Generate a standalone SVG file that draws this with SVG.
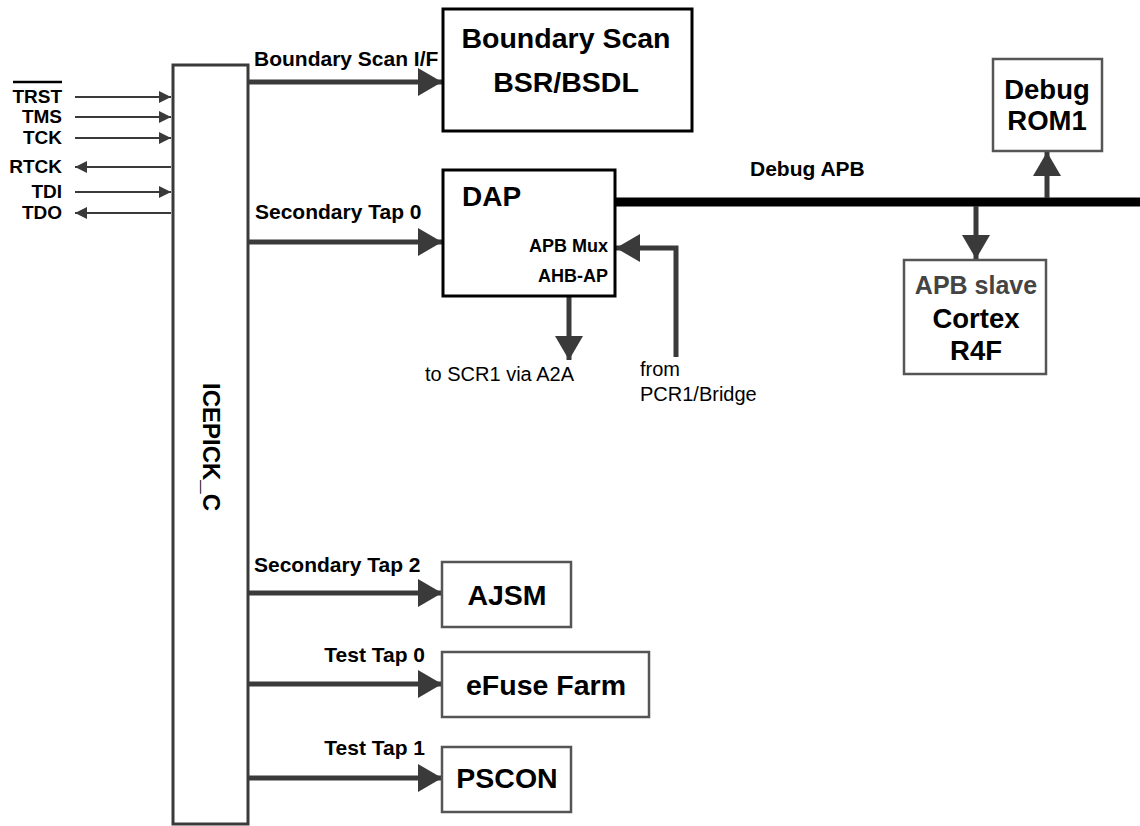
<svg xmlns="http://www.w3.org/2000/svg" width="1140" height="826" viewBox="0 0 1140 826">
<style>
text{font-family:"Liberation Sans",Arial,sans-serif;font-weight:bold;fill:#000}
.sig{font-size:19px}
.lbl{font-size:21px}
.big{font-size:28.5px}
.thin{font-weight:normal;font-size:20px}
.box{fill:#fff;stroke:#000;stroke-width:3}
.gbox{fill:#fff;stroke:#555;stroke-width:2.5}
.c5{fill:none;stroke:#3a3a3a;stroke-width:5;marker-end:url(#big)}
.c2{fill:none;stroke:#3a3a3a;stroke-width:2;marker-end:url(#small)}
</style>
<defs>
<marker id="big" markerUnits="userSpaceOnUse" markerWidth="25" markerHeight="28" refX="24" refY="14" orient="auto"><path d="M0,0 L24,14 L0,28 Z" fill="#3a3a3a"/></marker>
<marker id="small" markerUnits="userSpaceOnUse" markerWidth="13" markerHeight="12" refX="12" refY="6" orient="auto"><path d="M0,0 L12,6 L0,12 Z" fill="#3a3a3a"/></marker>
</defs>
<g id="connectors">
<path class="c2" d="M75,97 H171"/>
<path class="c2" d="M75,117 H171"/>
<path class="c2" d="M75,138 H171"/>
<path class="c2" d="M171,167 H75"/>
<path class="c2" d="M75,192 H171"/>
<path class="c2" d="M171,213 H75"/>
<path class="c5" d="M248,82 H442"/>
<path class="c5" d="M248,242 H442"/>
<path class="c5" d="M248,593 H442"/>
<path class="c5" d="M248,684 H442"/>
<path class="c5" d="M248,778 H442"/>
<path d="M615,202 H1140" stroke="#000" stroke-width="9" fill="none"/>
<path class="c5" d="M569,296 V360"/>
<path class="c5" d="M676,357 V248 H616"/>
<path class="c5" d="M976,206 V259"/>
<path class="c5" d="M1047,198 V152"/>
</g>
<g id="signals">
<text class="sig" x="62" y="103" text-anchor="end">TRST</text>
<line x1="13" y1="82" x2="62" y2="82" stroke="#000" stroke-width="2.5"/>
<text class="sig" x="62" y="123" text-anchor="end">TMS</text>
<text class="sig" x="62" y="144" text-anchor="end">TCK</text>
<text class="sig" x="62" y="173" text-anchor="end">RTCK</text>
<text class="sig" x="62" y="198" text-anchor="end">TDI</text>
<text class="sig" x="62" y="219" text-anchor="end">TDO</text>
</g>
<g id="labels">
<text class="lbl" x="254" y="66">Boundary Scan I/F</text>
<text class="lbl" x="255" y="219">Secondary Tap 0</text>
<text class="lbl" x="254" y="572">Secondary Tap 2</text>
<text class="lbl" x="425" y="662" text-anchor="end">Test Tap 0</text>
<text class="lbl" x="425" y="755" text-anchor="end">Test Tap 1</text>
<text class="lbl" x="750" y="176">Debug APB</text>
<text class="thin" x="425" y="381">to SCR1 via A2A</text>
<text class="thin" x="640" y="376">from</text>
<text class="thin" x="640" y="401">PCR1/Bridge</text>
</g>
<g id="icepick">
<rect x="173" y="65" width="75" height="759" fill="#fff" stroke="#3a3a3a" stroke-width="3"/>
<text x="0" y="0" font-size="24" text-anchor="middle" transform="translate(203,447) rotate(90)">ICEPICK_C</text>
</g>
<g id="bscan">
<rect class="box" x="443" y="9" width="249" height="122"/>
<text class="big" x="566" y="48" text-anchor="middle">Boundary Scan</text>
<text class="big" x="566" y="92" text-anchor="middle">BSR/BSDL</text>
</g>
<g id="dap">
<rect class="box" x="443" y="170" width="172" height="126"/>
<text class="big" x="462" y="206" style="font-size:28px">DAP</text>
<text x="608" y="252" font-size="18" text-anchor="end">APB Mux</text>
<text x="608" y="282" font-size="18" text-anchor="end">AHB-AP</text>
</g>
<g id="rom1">
<rect class="gbox" x="993" y="59" width="109" height="92"/>
<text class="big" x="1047" y="99" text-anchor="middle" style="font-size:27.5px">Debug</text>
<text class="big" x="1047" y="130" text-anchor="middle" style="font-size:27.5px">ROM1</text>
</g>
<g id="cortex">
<rect class="gbox" x="904" y="260" width="142" height="114"/>
<text x="976" y="294" text-anchor="middle" style="fill:#444;font-size:25px">APB slave</text>
<text x="976" y="328" text-anchor="middle" style="font-size:27.5px">Cortex</text>
<text x="976" y="360" text-anchor="middle" style="font-size:27.5px">R4F</text>
</g>
<g id="ajsm">
<rect class="gbox" x="442" y="562" width="129" height="65"/>
<text class="big" x="507" y="605" text-anchor="middle">AJSM</text>
</g>
<g id="efuse">
<rect class="gbox" x="442" y="652" width="207" height="65"/>
<text class="big" x="546" y="695" text-anchor="middle">eFuse Farm</text>
</g>
<g id="pscon">
<rect class="gbox" x="442" y="747" width="129" height="65"/>
<text class="big" x="507" y="788" text-anchor="middle">PSCON</text>
</g>
</svg>
